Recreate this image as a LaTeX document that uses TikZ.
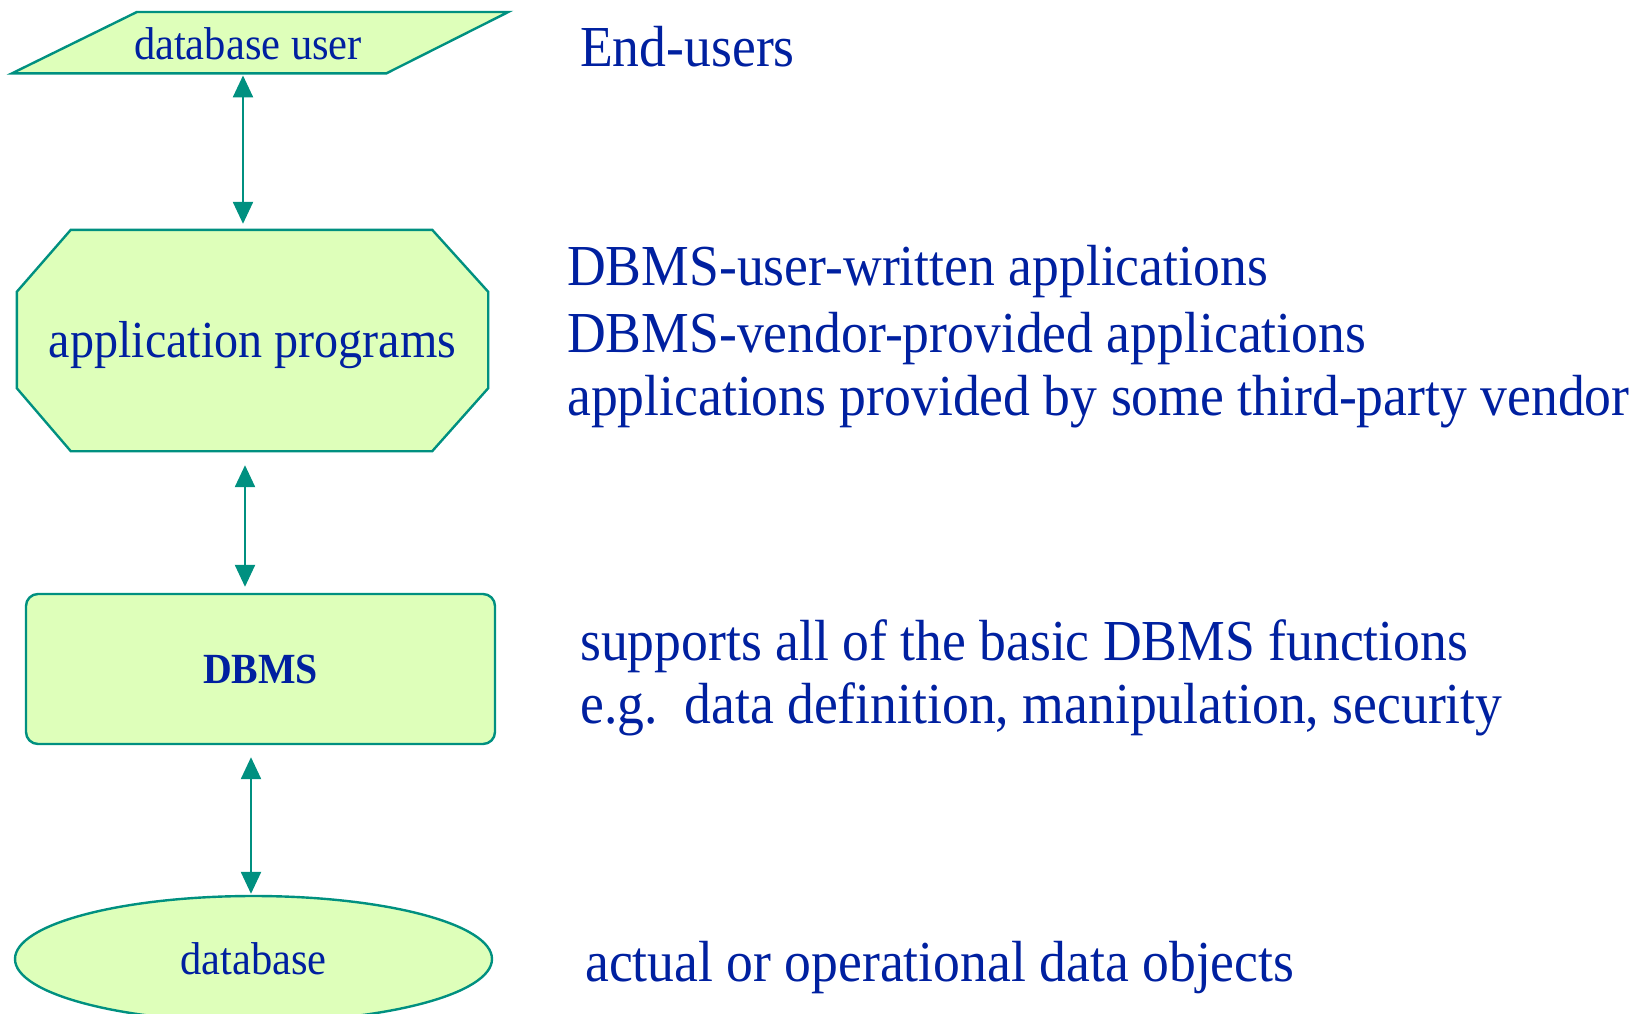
\documentclass[tikz,border=0pt]{standalone}
\usepackage{fontspec}
\setmainfont{Liberation Serif}[FakeStretch=0.925]
\usetikzlibrary{arrows.meta,shapes.geometric,backgrounds}
\definecolor{boxfill}{RGB}{222,255,186}
\definecolor{boxline}{RGB}{0,144,128}
\definecolor{inktext}{RGB}{0,32,160}
\tikzset{
  box/.style={draw=boxline, fill=boxfill, line width=2.4pt, text=inktext, inner sep=0pt},
  frame/.style={inner sep=0pt, text=inktext},
  paint/.style={draw=boxline, fill=boxfill, line width=2.4pt, line join=miter},
  note/.style={text=inktext, anchor=base west, inner sep=0pt, font=\fontsize{58}{65}\selectfont},
  link/.style={draw=boxline, line width=2.4pt, {Triangle[length=22pt,width=20pt]}-{Triangle[length=22pt,width=20pt]}}
}
\begin{document}
\begin{tikzpicture}[x=1pt,y=-1pt]
                \useasboundingbox (0,0) rectangle (1643,1014);
                % left column
                \node[frame, minimum width=496pt, minimum height=61pt, label={[text=inktext, font=\fontsize{46}{50}\selectfont, xshift=-12pt, yshift=-1pt]center:database user}] (user) at (260,42.75) {};
                \node[frame, minimum width=471pt, minimum height=221pt, label={[text=inktext, font=\fontsize{52}{56}\selectfont, yshift=-5pt]center:application programs}] (apps) at (252.5,340.5) {};
                \node[box, rectangle, rounded corners=12pt, minimum width=469pt, minimum height=150pt, font=\bfseries\fontsize{43}{48}\selectfont] (dbms) at (260.5,669) {DBMS};
                \node[box, ellipse, minimum width=477pt, minimum height=126pt, font=\fontsize{46}{50}\selectfont] (db) at (253.5,959) {database};
                \begin{scope}[on background layer]
                \draw[paint] ([xshift=125pt]user.north west) -- (user.north east) -- ([xshift=-122pt]user.south east) -- (user.south west) -- cycle;
                \draw[paint] ([xshift=54pt]apps.north west) -- ([xshift=-56pt]apps.north east) -- ([yshift=-62pt]apps.north east) -- ([yshift=63pt]apps.south east) -- ([xshift=-56pt]apps.south east) -- ([xshift=54pt]apps.south west) -- ([yshift=63pt]apps.south west) -- ([yshift=-62pt]apps.north west) -- cycle;
                \end{scope}
                % connectors
                \draw[link, shorten <=2pt, shorten >=6pt] (user.south -| 243,0) -- (apps.north -| 243,0);
                \draw[link, shorten <=14pt, shorten >=6pt] (apps.south -| 245,0) -- (dbms.north -| 245,0);
                \draw[link, shorten <=12pt, shorten >=1pt] (dbms.south -| 251,0) -- (db.north -| 251,0);
                % right column
                \node[note] (endusr) at (580,67) {End-users};
                \node[note] (appw1) at (567,285) {DBMS-user-written applications};
                \node[note] (appw2) at (567,352) {DBMS-vendor-provided applications};
                \node[note] (appw3) at (567,415) {applications provided by some third-party vendor};
                \node[note] (dbms1) at (580,660) {supports all of the basic DBMS functions};
                \node[note] (dbms2) at (580,723) {e.g.\ \ data definition, manipulation, security};
                \node[note] (dbdata) at (585,981) {actual or operational data objects};
            \end{tikzpicture}
\end{document}
